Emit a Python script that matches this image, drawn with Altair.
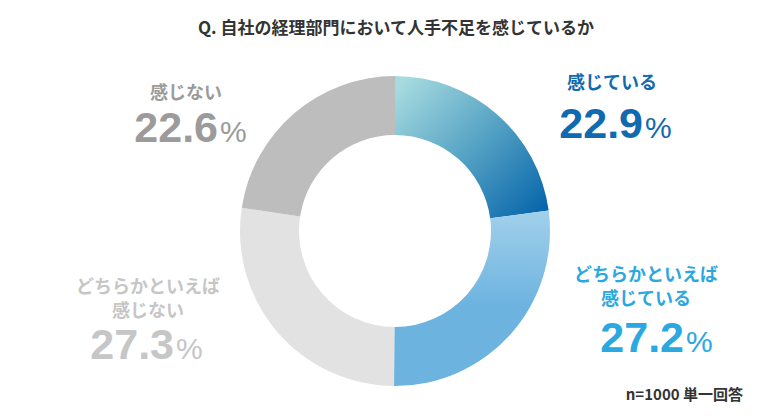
import altair as alt
import pandas as pd

# ---- data ----
categories = ["感じている", "どちらかといえば感じている", "どちらかといえば感じない", "感じない"]
label_texts = ["感じている", "どちらかといえば\n感じている", "どちらかといえば\n感じない", "感じない"]
values = [22.9, 27.2, 27.3, 22.6]
title_text = "Q. 自社の経理部門において人手不足を感じているか"
note_text = "n=1000 単一回答"

df = pd.DataFrame({"cat": categories, "label": label_texts, "value": values})
df["end"] = df["value"].cumsum()
df["start"] = df["end"] - df["value"]
df["num"] = df["value"].map(lambda v: f"{v:.1f}")

W, H = 781, 418
CX, CY = 395, 231
R_OUT, R_IN = 155, 96
JP = "Noto Sans CJK JP"
NUMF = "Liberation Sans"

theta_scale = alt.Scale(domain=[0, 100], range=[0, 6.283185307179586])

fills = [
    alt.LinearGradient(gradient="linear", x1=0, y1=0.1, x2=1, y2=1,
                       stops=[alt.GradientStop(color="#a6dadf", offset=0),
                              alt.GradientStop(color="#5aa6c6", offset=0.45),
                              alt.GradientStop(color="#0060a8", offset=1)]),
    alt.LinearGradient(gradient="linear", x1=0.5, y1=0, x2=0.5, y2=0.55,
                       stops=[alt.GradientStop(color="#a2d0ea", offset=0),
                              alt.GradientStop(color="#6cb3e0", offset=1)]),
    "#e2e2e2",
    "#bdbdbd",
]

base = alt.Chart(df)
arcs = []
for cat, f in zip(categories, fills):
    arcs.append(
        base.transform_filter(alt.datum.cat == cat)
        .mark_arc(fill=f, radius=R_OUT, radius2=R_IN, stroke=None)
        .encode(
            theta=alt.Theta("start:Q", scale=theta_scale),
            theta2="end:Q",
            x=alt.value(CX),
            y=alt.value(CY),
        )
    )

# label layout: (label x, first-line y, line height, number right x, number baseline y, color)
layout = {
    "感じている": (612, 84, 24, 643, 138, "#1169b0"),
    "どちらかといえば感じている": (646, 276, 24, 684, 352, "#2aa8e0"),
    "どちらかといえば感じない": (148, 288, 24, 174, 359, "#c6c6c6"),
    "感じない": (186, 94, 24, 218, 142, "#9b9b9b"),
}

texts = []
for cat in categories:
    lx, ly, lh, nx, ny, col = layout[cat]
    sel = base.transform_filter(alt.datum.cat == cat)
    texts.append(sel.mark_text(font=JP, fontSize=18, fontWeight="bold", color=col,
                               align="center", baseline="middle", lineBreak="\n", lineHeight=lh)
                 .encode(text="label:N", x=alt.value(lx), y=alt.value(ly)))
    texts.append(sel.mark_text(font=NUMF, fontSize=43, fontWeight="bold", color=col,
                               align="right", baseline="alphabetic")
                 .encode(text="num:N", x=alt.value(nx), y=alt.value(ny)))
    texts.append(sel.mark_text(font=NUMF, fontSize=30, fontWeight="normal", color=col,
                               align="left", baseline="alphabetic")
                 .encode(text=alt.value("%"), x=alt.value(nx + 2), y=alt.value(ny)))

title = alt.Chart(pd.DataFrame({"t": [title_text]})).mark_text(
    font=JP, fontSize=17, fontWeight="bold", color="#333333", align="center", baseline="middle"
).encode(text="t:N", x=alt.value(396), y=alt.value(29))

note = alt.Chart(pd.DataFrame({"t": [note_text]})).mark_text(
    font=JP, fontSize=15, fontWeight="bold", color="#333333", align="right", baseline="middle"
).encode(text="t:N", x=alt.value(743), y=alt.value(395))

chart = alt.layer(*arcs, *texts, title, note).properties(
    width=W, height=H, padding=0, autosize="none", background="white"
).configure_view(stroke=None)

chart.save("out.html", embed_options={"renderer": "svg", "actions": False})
